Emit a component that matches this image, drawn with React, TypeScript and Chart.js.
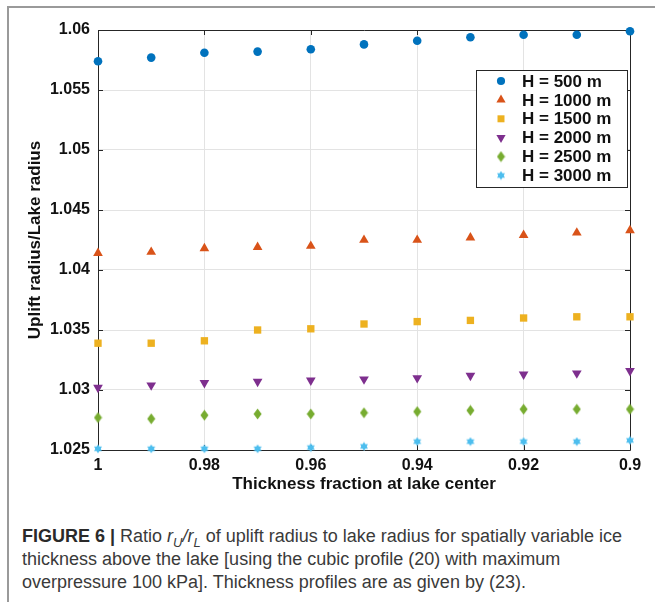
import React, { useEffect, useRef } from "react";
import { Chart, registerables } from "chart.js";
import { drawPoint } from "chart.js/helpers";

Chart.register(...registerables);

const xValues = [1, 0.99, 0.98, 0.97, 0.96, 0.95, 0.94, 0.93, 0.92, 0.91, 0.9];
const h500 = [1.0574, 1.0577, 1.0581, 1.0582, 1.0584, 1.0588, 1.0591, 1.0594, 1.0596, 1.0596, 1.0599];
const h1000 = [1.0414, 1.0415, 1.0418, 1.0419, 1.042, 1.0425, 1.0425, 1.0427, 1.0429, 1.0431, 1.0433];
const h1500 = [1.0339, 1.0339, 1.0341, 1.035, 1.0351, 1.0355, 1.0357, 1.0358, 1.036, 1.0361, 1.0361];
const h2000 = [1.0302, 1.0304, 1.0306, 1.0307, 1.0308, 1.0309, 1.031, 1.0312, 1.0313, 1.0314, 1.0316];
const h2500 = [1.0277, 1.0276, 1.0279, 1.028, 1.028, 1.0281, 1.0282, 1.0283, 1.0284, 1.0284, 1.0284];
const h3000 = [1.0251, 1.0251, 1.0251, 1.0251, 1.0252, 1.0253, 1.0257, 1.0257, 1.0257, 1.0257, 1.0258];

const seriesLabels = ["H = 500 m", "H = 1000 m", "H = 1500 m", "H = 2000 m", "H = 2500 m", "H = 3000 m"];
const seriesColors = ["#0072BD", "#D95319", "#EDB120", "#7E2F8E", "#77AC30", "#4DBEEE"];

const xTicks = [1, 0.98, 0.96, 0.94, 0.92, 0.9];
const yTicks = [1.025, 1.03, 1.035, 1.04, 1.045, 1.05, 1.055, 1.06];

const xTitle = "Thickness fraction at lake center";
const yTitle = "Uplift radius/Lake radius";

const FONT = "'Liberation Sans', Arial, Helvetica, sans-serif";

function makeDiamond(color: string): HTMLCanvasElement {
  const c = document.createElement("canvas");
  c.width = 9;
  c.height = 12;
  const g = c.getContext("2d")!;
  g.fillStyle = color;
  g.beginPath();
  g.moveTo(4.5, 0.5);
  g.lineTo(8.5, 6);
  g.lineTo(4.5, 11.5);
  g.lineTo(0.5, 6);
  g.closePath();
  g.fill();
  return c;
}

function makeHexagram(color: string): HTMLCanvasElement {
  const c = document.createElement("canvas");
  c.width = 10;
  c.height = 10;
  const g = c.getContext("2d")!;
  g.fillStyle = color;
  const cx = 5, cy = 5, r = 4.6;
  for (let k = 0; k < 2; k++) {
    g.beginPath();
    for (let i = 0; i < 3; i++) {
      const a = (k * Math.PI) / 3 + (i * 2 * Math.PI) / 3 - Math.PI / 2;
      const px = cx + r * Math.cos(a);
      const py = cy + r * Math.sin(a);
      if (i === 0) g.moveTo(px, py);
      else g.lineTo(px, py);
    }
    g.closePath();
    g.fill();
  }
  return c;
}

const boxPlugin = {
  id: "boxPlugin",
  beforeDatasetsDraw(chart: any) {
    const { ctx, chartArea } = chart;
    const { left, right, top, bottom } = chartArea;
    const xs = chart.scales.x;
    const ys = chart.scales.y;
    ctx.save();
    ctx.strokeStyle = "#262626";
    ctx.lineWidth = 1;
    ctx.beginPath();
    ctx.rect(Math.round(left) + 0.5, Math.round(top) + 0.5, Math.round(right - left), Math.round(bottom - top));
    ctx.stroke();
    const tl = 5;
    ctx.beginPath();
    xTicks.forEach((v) => {
      const px = Math.round(xs.getPixelForValue(v)) + 0.5;
      ctx.moveTo(px, bottom);
      ctx.lineTo(px, bottom - tl);
      ctx.moveTo(px, top);
      ctx.lineTo(px, top + tl);
    });
    yTicks.forEach((v) => {
      const py = Math.round(ys.getPixelForValue(v)) + 0.5;
      ctx.moveTo(left, py);
      ctx.lineTo(left + tl, py);
      ctx.moveTo(right, py);
      ctx.lineTo(right - tl, py);
    });
    ctx.stroke();
    ctx.restore();
  },
};

const legendPlugin = {
  id: "customLegend",
  afterDraw(chart: any) {
    const { ctx, chartArea } = chart;
    const boxRight = chartArea.right - 3;
    const boxLeft = boxRight - 151;
    const boxTop = chartArea.top + 40;
    const boxBottom = boxTop + 117;
    ctx.save();
    ctx.fillStyle = "#ffffff";
    ctx.fillRect(boxLeft, boxTop, boxRight - boxLeft, boxBottom - boxTop);
    ctx.strokeStyle = "#262626";
    ctx.lineWidth = 1;
    ctx.strokeRect(Math.round(boxLeft) + 0.5, Math.round(boxTop) + 0.5, Math.round(boxRight - boxLeft), Math.round(boxBottom - boxTop));
    ctx.font = `bold 17px ${FONT}`;
    ctx.textBaseline = "middle";
    ctx.textAlign = "left";
    ctx.fillStyle = "#111111";
    chart.data.datasets.forEach((ds: any, i: number) => {
      const y = boxTop + 11 + i * 18.9;
      ctx.fillStyle = ds.backgroundColor;
      drawPoint(
        ctx,
        {
          pointStyle: ds.pointStyle,
          radius: ds.pointRadius * 0.95,
          rotation: ds.pointRotation || 0,
          borderWidth: 0,
        } as any,
        boxLeft + 25,
        y
      );
      ctx.fillStyle = "#111111";
      ctx.fillText(ds.label, boxLeft + 46, y + 1);
    });
    ctx.restore();
  },
};

function fmt(v: number) {
  return String(Number(v.toFixed(3)));
}

export default function App() {
  const ref = useRef<HTMLCanvasElement | null>(null);

  useEffect(() => {
    if (!ref.current) return;
    const series = [h500, h1000, h1500, h2000, h2500, h3000];
    const styles: any[] = ["circle", "triangle", "rect", "triangle", makeDiamond(seriesColors[4]), makeHexagram(seriesColors[5])];
    const radii = [4.3, 5.6, 5.2, 5.6, 5, 5];
    const rotations = [0, 0, 0, 180, 0, 0];
    const chart = new Chart(ref.current, {
      type: "scatter",
      data: {
        datasets: series.map((vals, i) => ({
          label: seriesLabels[i],
          data: vals.map((y, j) => ({ x: xValues[j], y })),
          backgroundColor: seriesColors[i],
          borderColor: seriesColors[i],
          pointStyle: styles[i],
          pointRadius: radii[i],
          pointRotation: rotations[i],
          pointBorderWidth: 0,
          showLine: false,
          clip: false as any,
        })),
      },
      options: {
        responsive: false,
        animation: false,
        devicePixelRatio: 1,
        layout: { padding: { left: 0, top: 30, right: 25, bottom: 0 } },
        plugins: {
          legend: { display: false },
          tooltip: { enabled: false },
        },
        scales: {
          x: {
            type: "linear",
            reverse: true,
            min: 0.9,
            max: 1,
            afterBuildTicks: (scale: any) => {
              scale.ticks = xTicks.map((v) => ({ value: v }));
            },
            afterFit: (scale: any) => {
              scale.height = 50;
            },
            grid: { color: "#e3e3e3", lineWidth: 1, drawTicks: false },
            border: { display: false },
            ticks: {
              padding: 6,
              color: "#111111",
              font: { family: FONT, size: 16, weight: "bold" },
              callback: (v: any) => fmt(Number(v)),
            },
            title: {
              display: true,
              text: xTitle,
              color: "#111111",
              font: { family: FONT, size: 17, weight: "bold" },
              padding: { top: 0, bottom: 5 },
            },
          },
          y: {
            type: "linear",
            min: 1.025,
            max: 1.06,
            afterBuildTicks: (scale: any) => {
              scale.ticks = yTicks.map((v) => ({ value: v }));
            },
            afterFit: (scale: any) => {
              scale.width = 98;
            },
            grid: { color: "#e3e3e3", lineWidth: 1, drawTicks: false },
            border: { display: false },
            ticks: {
              padding: 8,
              color: "#111111",
              font: { family: FONT, size: 16, weight: "bold" },
              callback: (v: any) => fmt(Number(v)),
            },
            title: {
              display: true,
              text: yTitle,
              color: "#111111",
              font: { family: FONT, size: 17, weight: "bold" },
              padding: { top: 25, bottom: 0 },
            },
          },
        },
      } as any,
      plugins: [boxPlugin, legendPlugin],
    });
    return () => chart.destroy();
  }, []);

  return (
    <div
      style={{
        position: "absolute",
        left: 0,
        top: 0,
        width: 655,
        height: 602,
        background: "#ffffff",
        overflow: "hidden",
      }}
    >
      <div
        style={{
          position: "absolute",
          left: 7,
          top: 6,
          width: 700,
          height: 700,
          borderLeft: "2px solid #9a9a9a",
          borderTop: "2px solid #9a9a9a",
        }}
      />
      <canvas ref={ref} width={655} height={500} style={{ position: "absolute", left: 0, top: 0, width: 655, height: 500 }} />
      <div
        style={{
          position: "absolute",
          left: 22,
          top: 525,
          width: 630,
          fontFamily: FONT,
          fontSize: 18,
          lineHeight: "23px",
          color: "#3a3a3a",
          whiteSpace: "nowrap",
        }}
      >
        <div>
          <b style={{ color: "#2a2a2a" }}>FIGURE 6 |</b> Ratio{" "}
          <i>
            r<sub style={{ fontSize: 13, lineHeight: 0 }}>U</sub>/r<sub style={{ fontSize: 13, lineHeight: 0 }}>L</sub>
          </i>{" "}
          of uplift radius to lake radius for spatially variable ice
        </div>
        <div>thickness above the lake [using the cubic profile (20) with maximum</div>
        <div>overpressure 100 kPa]. Thickness profiles are as given by (23).</div>
      </div>
    </div>
  );
}
